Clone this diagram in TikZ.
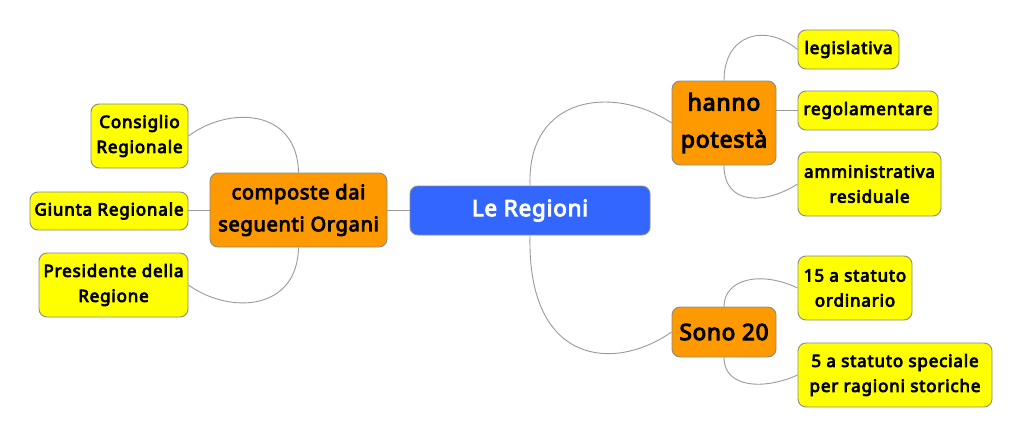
\documentclass[tikz,border=0pt]{standalone}
\usepackage{fontspec}
\setmainfont{Noto Sans}
\newfontfamily\bigfont{Noto Sans}[FakeBold=4.5, LetterSpace=3.5]
\newfontfamily\leaffont{Noto Sans}[FakeBold=4.5, LetterSpace=5]
\definecolor{rootblue}{HTML}{3366FF}
\definecolor{midorange}{HTML}{FF9900}
\definecolor{leafyellow}{HTML}{FFFF00}
\definecolor{bordergray}{HTML}{8A8A8A}
\definecolor{linegray}{HTML}{9A9A9A}
\tikzset{
  box/.style={draw=bordergray, line width=0.9pt, rounded corners=8pt, align=center, inner sep=0pt},
  rootbox/.style={box, fill=rootblue, text=white, font=\bigfont\fontsize{22.5}{26}\selectfont},
  midbox/.style={box, fill=midorange, text=black},
  leafbox/.style={box, fill=leafyellow, text=black, font=\leaffont\fontsize{17}{25}\selectfont},
  link/.style={draw=linegray, line width=0.9pt}
}
\begin{document}
\begin{tikzpicture}[x=1pt,y=-1pt]
\useasboundingbox (0,0) rectangle (1024,439);
\node[rootbox, minimum width=240pt, minimum height=49pt] (root) at (530,210.5) {Le Regioni};
\node[midbox, minimum width=104pt, minimum height=84pt, font=\bigfont\fontsize{23}{37}\selectfont] (hanno) at (724,123) {hanno\\potestà};
\node[midbox, minimum width=104pt, minimum height=50pt, font=\bigfont\fontsize{22.5}{26}\selectfont] (sono) at (724,332) {Sono 20};
\node[midbox, minimum width=177pt, minimum height=74pt, font=\bigfont\fontsize{20}{32}\selectfont] (comp) at (298.5,210) {composte dai\\seguenti Organi};
\node[leafbox, minimum width=101pt, minimum height=39pt] (legis) at (848.5,49.5) {legislativa};
\node[leafbox, minimum width=140pt, minimum height=39pt] (regol) at (868,110.5) {regolamentare};
\node[leafbox, minimum width=143pt, minimum height=64pt] (ammin) at (869.5,184) {amministrativa\\residuale};
\node[leafbox, minimum width=114pt, minimum height=64pt] (quin) at (855,288) {15 a statuto\\ordinario};
\node[leafbox, minimum width=194pt, minimum height=64pt] (cinq) at (895,375) {5 a statuto speciale\\per ragioni storiche};
\node[leafbox, minimum width=97pt, minimum height=64pt] (cons) at (139.5,136) {Consiglio\\Regionale};
\node[leafbox, minimum width=158pt, minimum height=38pt] (giun) at (109,211) {Giunta Regionale};
\node[leafbox, minimum width=149pt, minimum height=64pt] (pres) at (113.5,285) {Presidente della\\Regione};
% connectors
\draw[link] (root.west) -- (root.west -| comp.east);
\draw[link] (root.north) .. controls +(-3,-91) and +(-57,-38) .. (hanno.west);
\draw[link] (root.south) .. controls +(-3,130) and +(-57,40) .. (sono.west);
\draw[link] (hanno.north) .. controls +(0,-46) and +(-33,-27) .. (legis.west);
\draw[link] (regol.west) -- (regol.west -| hanno.east);
\draw[link] (hanno.south) .. controls +(0,40) and +(-33,21) .. (ammin.west);
\draw[link] (sono.north) .. controls +(0,-27) and +(-38,-18) .. (quin.west);
\draw[link] (sono.south) .. controls +(0,31) and +(-33,15) .. (cinq.west);
\draw[link] (comp.north) .. controls +(-1,-63) and +(42,-31) .. (cons.east);
\draw[link] (comp.west) -- (comp.west -| giun.east);
\draw[link] (comp.south) .. controls +(-1,63) and +(42,30) .. (pres.east);
\end{tikzpicture}
\end{document}
